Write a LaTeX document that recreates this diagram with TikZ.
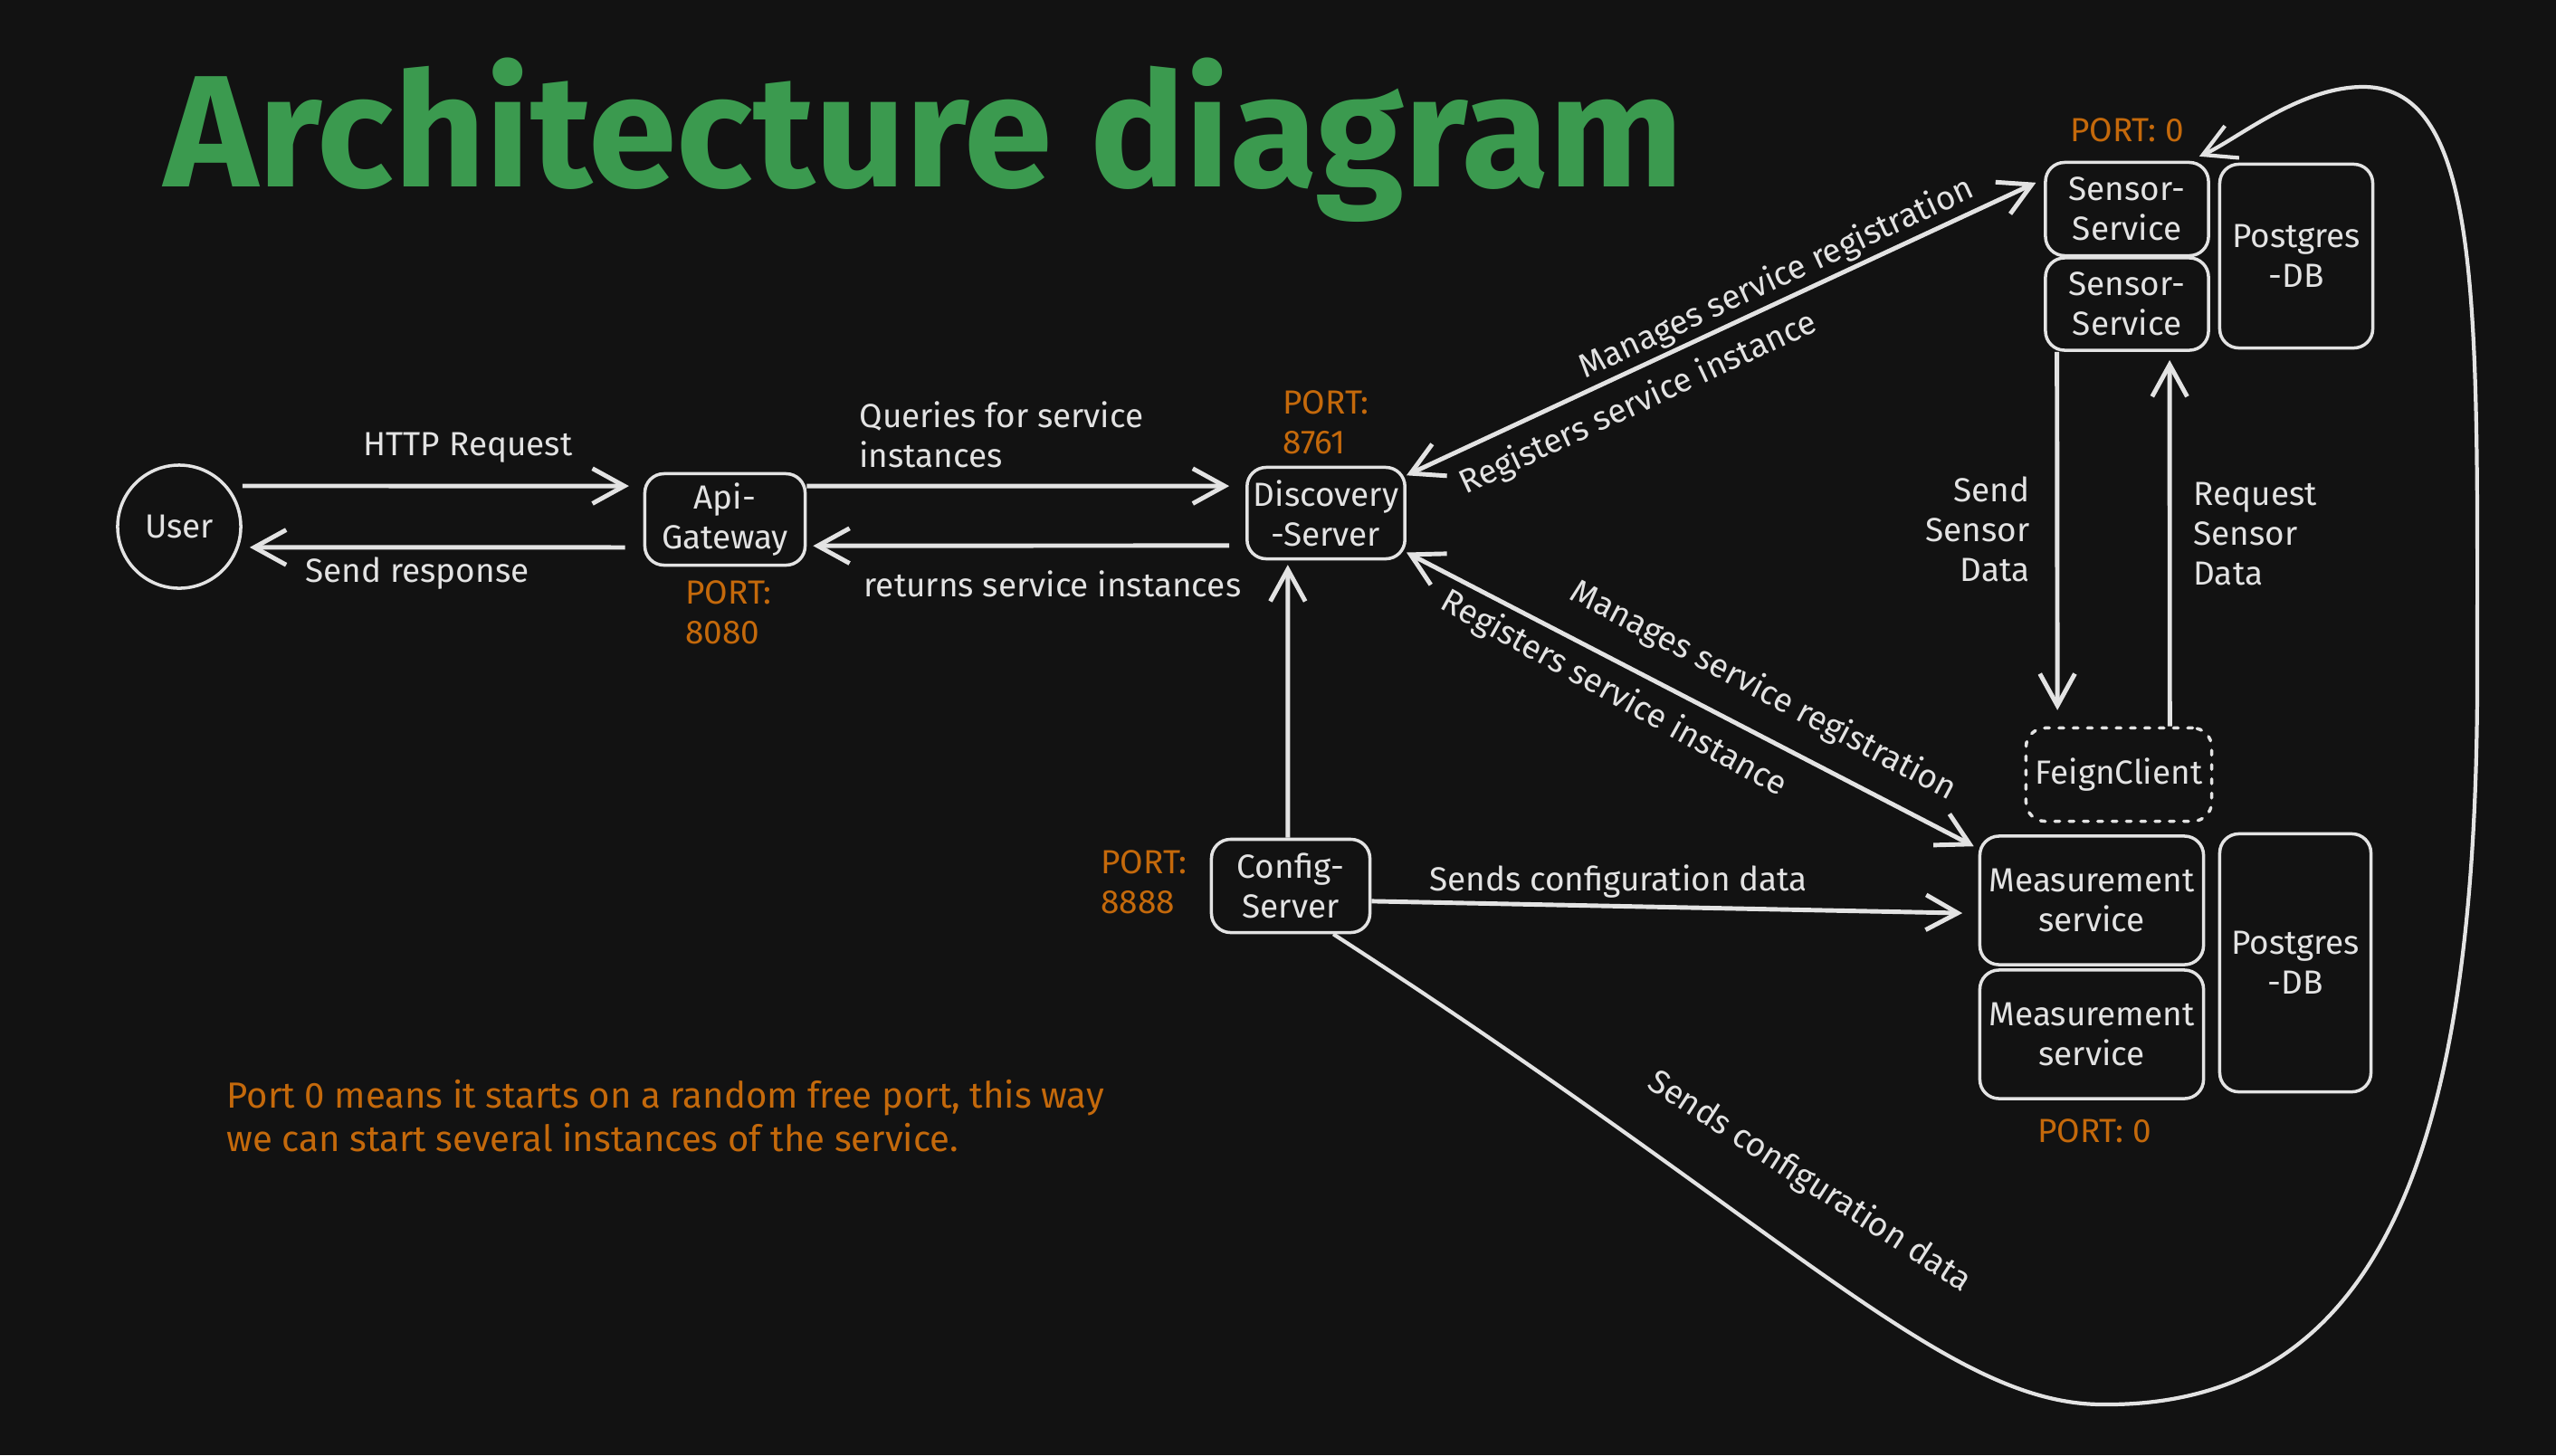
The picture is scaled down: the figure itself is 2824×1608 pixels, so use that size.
\documentclass[tikz,border=0pt]{standalone}
\usepackage{fontspec}
\setmainfont{Fira Sans}
\usetikzlibrary{arrows.meta}
\definecolor{bg}{HTML}{121212}
\definecolor{ink}{HTML}{E3E3E3}
\definecolor{portc}{HTML}{C4690B}
\definecolor{titlec}{HTML}{3B9A4F}

\begin{document}
\begin{tikzpicture}[x=0.01cm,y=-0.01cm,line width=1pt,color=ink,
  font=\fontsize{10.5}{12.5}\selectfont,
  box/.style={draw,rounded corners=6pt,align=center,inner sep=2pt},
  arr/.style={line width=1.4pt,-{Straight Barb[length=10pt,width=11pt]}},
  arrs/.style={line width=1.4pt,{Straight Barb[length=10pt,width=11pt]}-{Straight Barb[length=10pt,width=11pt]}},
  portlbl/.style={text=portc,align=left}]
\useasboundingbox[fill=bg] (0,0) rectangle (2824,1608);
\node[font=\fontsize{50}{50}\selectfont\bfseries,text=titlec,anchor=base west,inner sep=0pt] (title) at (180,206) {Architecture diagram};
\node[circle,draw,minimum size=1.36cm,inner sep=0pt] (user) at (198,582) {User};
\node[box,minimum width=1.77cm,minimum height=1.01cm] (gw) at (801,574) {Api-\\Gateway};
\node[box,minimum width=1.74cm,minimum height=1.01cm] (disc) at (1465,567) {Discovery\\-Server};
\node[box,minimum width=1.75cm,minimum height=1.03cm] (conf) at (1426,979) {Config-\\Server};
\node[box,minimum width=1.80cm,minimum height=1.03cm] (sens1) at (2350,231) {Sensor-\\Service};
\node[box,minimum width=1.80cm,minimum height=1.02cm] (sens2) at (2350,336) {Sensor-\\Service};
\node[box,minimum width=1.69cm,minimum height=2.03cm] (pg1) at (2537,283) {Postgres\\-DB};
\node[box,dash pattern=on 1.5pt off 3pt,line cap=round,minimum width=2.05cm,minimum height=1.03cm] (feign) at (2341,856) {FeignClient};
\node[box,minimum width=2.47cm,minimum height=1.42cm] (meas1) at (2311,995) {Measurement\\service};
\node[box,minimum width=2.47cm,minimum height=1.42cm] (meas2) at (2311,1143) {Measurement\\service};
\node[box,minimum width=1.67cm,minimum height=2.85cm] (pg2) at (2536,1064) {Postgres\\-DB};
%\node[portlbl] at (0,0) {PORT};
\node[portlbl] (pgw) at (805,677) {PORT:\\8080};
\node[portlbl,anchor=west] (pdisc) at (1404,467) {PORT:\\8761};
\node[portlbl] (pconf) at (1264,975) {PORT:\\8888};
\node[portlbl] (psens) at (2350,144) {PORT: 0};
\node[portlbl] (pmeas) at (2314,1250) {PORT: 0};
\node[portlbl,anchor=west,inner sep=0pt,font=\fontsize{11.4}{13.5}\selectfont] (note) at (249,1233) {Port 0 means it starts on a random free port, this way\\we can start several instances of the service.};
\node (lhttp) at (517,495) {HTTP Request};
\node (lresp) at (461,634) {Send response};
\node[anchor=west,align=left] (lqry) at (936,480) {Queries for service\\instances};
\node (lret) at (1163,645) {returns service instances};
\node (lcfg) at (1788,974) {Sends configuration data};
\node[rotate=25] (lman1) at (1963,308) {Manages service registration};
\node[rotate=25] (lreg1) at (1810,446) {Registers service instance};
\node[rotate=-28] (lman2) at (1948,764) {Manages service registration};
\node[rotate=-29] (lreg2) at (1783,767) {Registers service instance};
\node[anchor=east,align=right] (lsend) at (2256,585) {Send\\Sensor\\Data};
\node[anchor=west,align=left] (lreq) at (2410,590) {Request\\Sensor\\Data};
\node[rotate=-33] (lcurve) at (1999,1306) {Sends configuration data};
\draw[arr] ([yshift=12.8pt]user.east) -- ([xshift=-4.5pt,yshift=10.5pt]gw.west);
\draw[arr] ([xshift=-5.7pt,yshift=-8.8pt]gw.west) -- ([xshift=2.3pt,yshift=-6.5pt]user.east);
\draw[arr] ([yshift=10.5pt]gw.east) -- ([xshift=-5.1pt,yshift=8.5pt]disc.west);
\draw[arr] ([xshift=-5.1pt,yshift=-10.2pt]disc.west) -- ([xshift=2pt,yshift=-8.3pt]gw.east);
\draw[arr] ([xshift=-0.9pt]conf.north) -- ([xshift=-12pt,yshift=-1.4pt]disc.south);
\draw[arr] ([yshift=-4.8pt]conf.east) -- ([xshift=-5pt,yshift=-4pt]meas1.west);
\draw[arrs] ([yshift=-3pt]disc.north east) -- ([xshift=-2.5pt,yshift=8.3pt]sens1.west);
\draw[arrs] ([yshift=2.5pt]disc.south east) -- ([xshift=-1.4pt,yshift=-3.7pt]meas1.north west);
\draw[arr] ([xshift=-22pt]sens2.south) -- ([xshift=-19.3pt,yshift=5.1pt]feign.north);
\draw[arr] ([xshift=16pt]feign.north) -- ([xshift=13.4pt,yshift=-2.6pt]sens2.south);
\draw[line width=1.2pt,-{Straight Barb[length=10pt,width=11pt]}] ([xshift=13.4pt]conf.south) .. controls (1980,1360) and (2150,1552) .. (2323,1552) .. controls (2640,1555) and (2735,1250) .. (2737,760) .. controls (2737,350) and (2745,96) .. (2611,96) .. controls (2540,96) and (2470,155) .. ([xshift=-3.4pt,yshift=1.4pt]sens1.north east);
\end{tikzpicture}
\end{document}
